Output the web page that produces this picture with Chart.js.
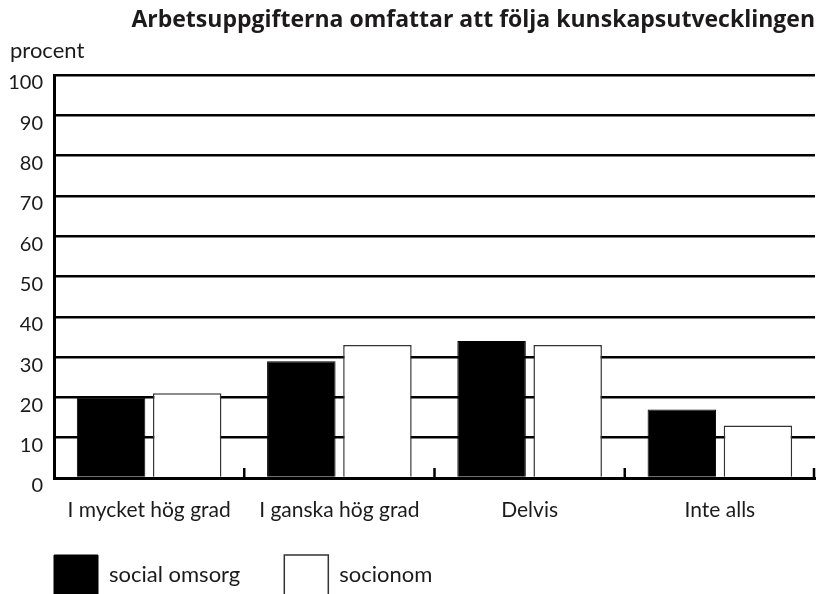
<!DOCTYPE html>
<html>
<head>
<meta charset="utf-8">
<script src="https://cdn.jsdelivr.net/npm/chart.js@4/dist/chart.umd.min.js"></script>
<style>
    html, body { margin: 0; padding: 0; background: #fff; overflow: hidden; }
    #wrap { width: 817px; height: 594px; }
</style>
</head>
<body>
<div id="wrap"><canvas id="chart"></canvas></div>
<script>
// values
const CATEGORIES = ["I mycket hög grad", "I ganska hög grad", "Delvis", "Inte alls"];
const SOCIAL_OMSORG = [20, 29, 34, 17];
const SOCIONOM = [21, 33, 33, 13];
const SERIES_NAMES = ["social omsorg", "socionom"];

const FONT = "Lato, 'Open Sans', sans-serif";
const INK = "#1c1a1b";

// small upward tick marks between the category groups
const groupTicks = {
    id: "groupTicks",
    afterDraw(chart) {
        const x = chart.scales.x;
        const area = chart.chartArea;
        const ctx = chart.ctx;
        ctx.save();
        ctx.strokeStyle = "#000";
        ctx.lineWidth = 2.5;
        for (let i = 1; i <= CATEGORIES.length; i++) {
            let px;
            if (i < CATEGORIES.length) {
                px = (x.getPixelForValue(i - 1) + x.getPixelForValue(i)) / 2;
            } else {
                px = area.right - 1;
            }
            ctx.beginPath();
            ctx.moveTo(px, area.bottom);
            ctx.lineTo(px, area.bottom - 10);
            ctx.stroke();
        }
        ctx.restore();
    }
};

// the legend padding sets both the left indent and the gap above the boxes;
// pull its top up a bit so the boxes sit low and cut off like in the original
const legendLift = {
    id: "legendLift",
    afterLayout(chart) {
        chart.legend.top -= 13;
    }
};

Chart.defaults.font.family = FONT;
Chart.defaults.color = INK;

const chart = new Chart(document.getElementById("chart"), {
    type: "bar",
    data: {
        labels: CATEGORIES,
        datasets: [
            {
                label: SERIES_NAMES[0],
                data: SOCIAL_OMSORG,
                backgroundColor: "#000",
                borderColor: "#000",
                borderWidth: 1
            },
            {
                label: SERIES_NAMES[1],
                data: SOCIONOM,
                backgroundColor: "#fff",
                borderColor: "#333",
                borderWidth: 1.5
            }
        ]
    },
    options: {
        responsive: true,
        maintainAspectRatio: false,
        animation: false,
        layout: { padding: { left: 10, right: 2, top: 0, bottom: 0 } },
        scales: {
            x: {
                grid: { display: false },
                border: { display: true, color: "#000", width: 3 },
                ticks: { font: { size: 21 }, padding: 12, color: INK },
                afterFit(scale) { scale.height = 46; }
            },
            y: {
                min: 0,
                max: 100,
                grid: { color: "#000", lineWidth: 2.5, drawTicks: false },
                border: { display: true, color: "#000", width: 3 },
                ticks: { stepSize: 10, font: { size: 20 }, padding: 11, labelOffset: 8, color: INK },
                afterFit(scale) { scale.width = 44; }
            }
        },
        plugins: {
            title: {
                display: true,
                text: "Arbetsuppgifterna omfattar att följa kunskapsutvecklingen",
                align: "end",
                color: INK,
                font: { family: "'Open Sans', sans-serif", size: 23, weight: "bold" },
                padding: { top: 7, bottom: 0 }
            },
            subtitle: {
                display: true,
                text: "procent",
                align: "start",
                color: INK,
                font: { size: 22 },
                padding: { top: 3, bottom: 11 }
            },
            legend: {
                position: "bottom",
                align: "start",
                maxHeight: 70,
                labels: {
                    boxWidth: 44,
                    boxHeight: 40,
                    padding: 44,
                    color: INK,
                    font: { size: 22 }
                }
            },
            tooltip: { enabled: false }
        }
    },
    plugins: [groupTicks, legendLift]
});
</script>
</body>
</html>
